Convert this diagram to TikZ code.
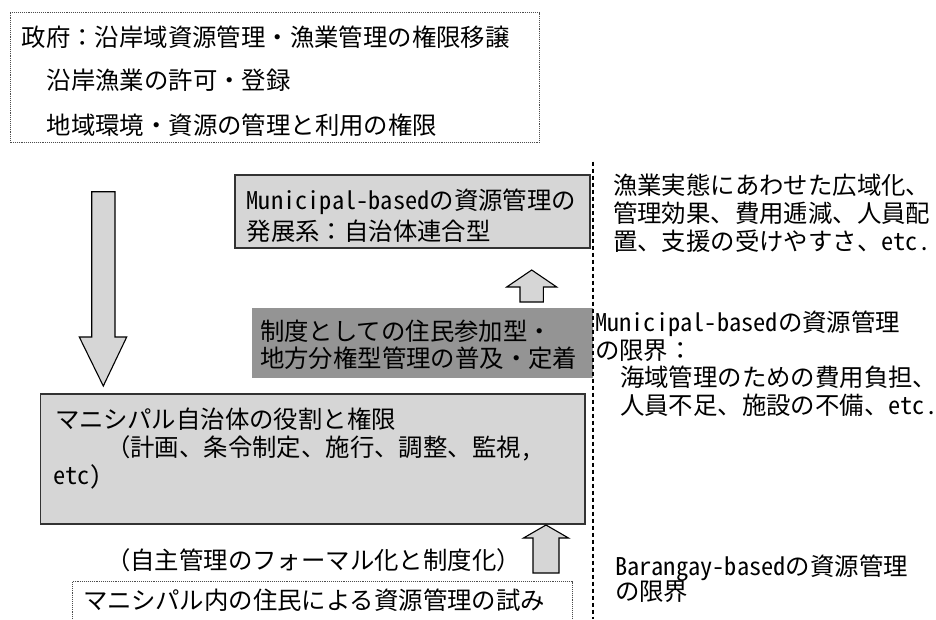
\documentclass[tikz,border=0pt]{standalone}
\usepackage{fontspec}
\setmainfont{Noto Sans CJK JP}
\newfontfamily\hwfont{Noto Sans CJK JP}[RawFeature=+hwid]
\newcommand\hwtext[1]{{\hwfont #1}}
\begin{document}
\begin{tikzpicture}[x=1pt,y=-1pt,
  txt/.style={font=\fontsize{24.4}{29}\selectfont, inner sep=0pt, outer sep=0pt, anchor=west, text=black},
  dotbox/.style={draw=black!70, densely dotted, line width=0.9pt},
  lightbox/.style={draw=black!80, line width=1.3pt, fill=black!16},
  darkbox/.style={fill=black!42},
  blockarrow/.style={draw=black, line width=1.1pt, fill=black!16, line join=miter},
  divider/.style={draw=black, line width=2pt, dash pattern=on 4.5pt off 2.5pt}]
\useasboundingbox (0,0) rectangle (936,619);

% top government box
\draw[dotbox] (10,12.7) rectangle (539,142.7);
\node[txt] (g1) at (21.7,37) {政府：沿岸域資源管理・漁業管理の権限移譲};
\node[txt] (g2) at (46.7,80) {沿岸漁業の許可・登録};
\node[txt] (g3) at (46.7,125) {地域環境・資源の管理と利用の権限};

% big down arrow
\draw[blockarrow] (91.7,191.7) -- (115,191.7) -- (115,337) -- (126.7,337) -- (103.3,386) -- (79.3,337) -- (91.7,337) -- cycle;

% Municipal-based development box
\draw[lightbox] (235,175) rectangle (590,248);
\node[txt] (a1) at (246.7,201.7) {\hwtext{Municipal-based}の資源管理の};
\node[txt] (a2) at (246.7,231.7) {発展系：自治体連合型};

% small up arrow
\draw[blockarrow] (520,302) -- (520,287) -- (506.7,287) -- (531.7,270) -- (556.7,287) -- (543.3,287) -- (543.3,302) -- cycle;

% dark box
\fill[darkbox] (251.7,308) rectangle (593,378);
\node[txt] (d1) at (260,331.7) {制度としての住民参加型・};
\node[txt] (d2) at (260,358.3) {地方分権型管理の普及・定着};

% municipal role box
\draw[lightbox] (40.7,394) rectangle (585,524);
\node[txt] (b1) at (55,419) {マニシパル自治体の役割と権限};
\node[txt] (b2) at (106,448) {（計画、条令制定、施行、調整、監視\hwtext{,}};
\node[txt] (b3) at (53,477) {\hwtext{etc)}};

% formalisation label and arrow
\node[txt] (f1) at (106,560) {（自主管理のフォーマル化と制度化）};
\draw[blockarrow] (533,573) -- (533,538) -- (523.5,538) -- (546,525) -- (568.5,538) -- (559,538) -- (559,573) -- cycle;

% bottom box (cut off)
\draw[dotbox] (72,619) -- (72,581.7) -- (572.7,581.7) -- (572.7,619);
\node[txt] (c1) at (83,600) {マニシパル内の住民による資源管理の試み};

% divider
\coordinate (vtop) at (592.7,161.7);
\coordinate (vbot) at (592.7,619);
\draw[divider] (vtop) -- (vbot);

% right side texts
\node[txt] (r1) at (613,185) {漁業実態にあわせた広域化、};
\node[txt] (r2) at (613,213) {管理効果、費用逓減、人員配};
\node[txt] (r3) at (613,241.7) {置、支援の受けやすさ、\hwtext{etc.}};
\node[txt] (r4) at (595,324) {\hwtext{Municipal-based}の資源管理};
\node[txt] (r5) at (595,351) {の限界：};
\node[txt] (r6) at (620,377) {海域管理のための費用負担、};
\node[txt] (r7) at (620,405) {人員不足、施設の不備、\hwtext{etc.}};
\node[txt] (r8) at (615,568) {\hwtext{Barangay-based}の資源管理};
\node[txt] (r9) at (615,592) {の限界};
\end{tikzpicture}
\end{document}
